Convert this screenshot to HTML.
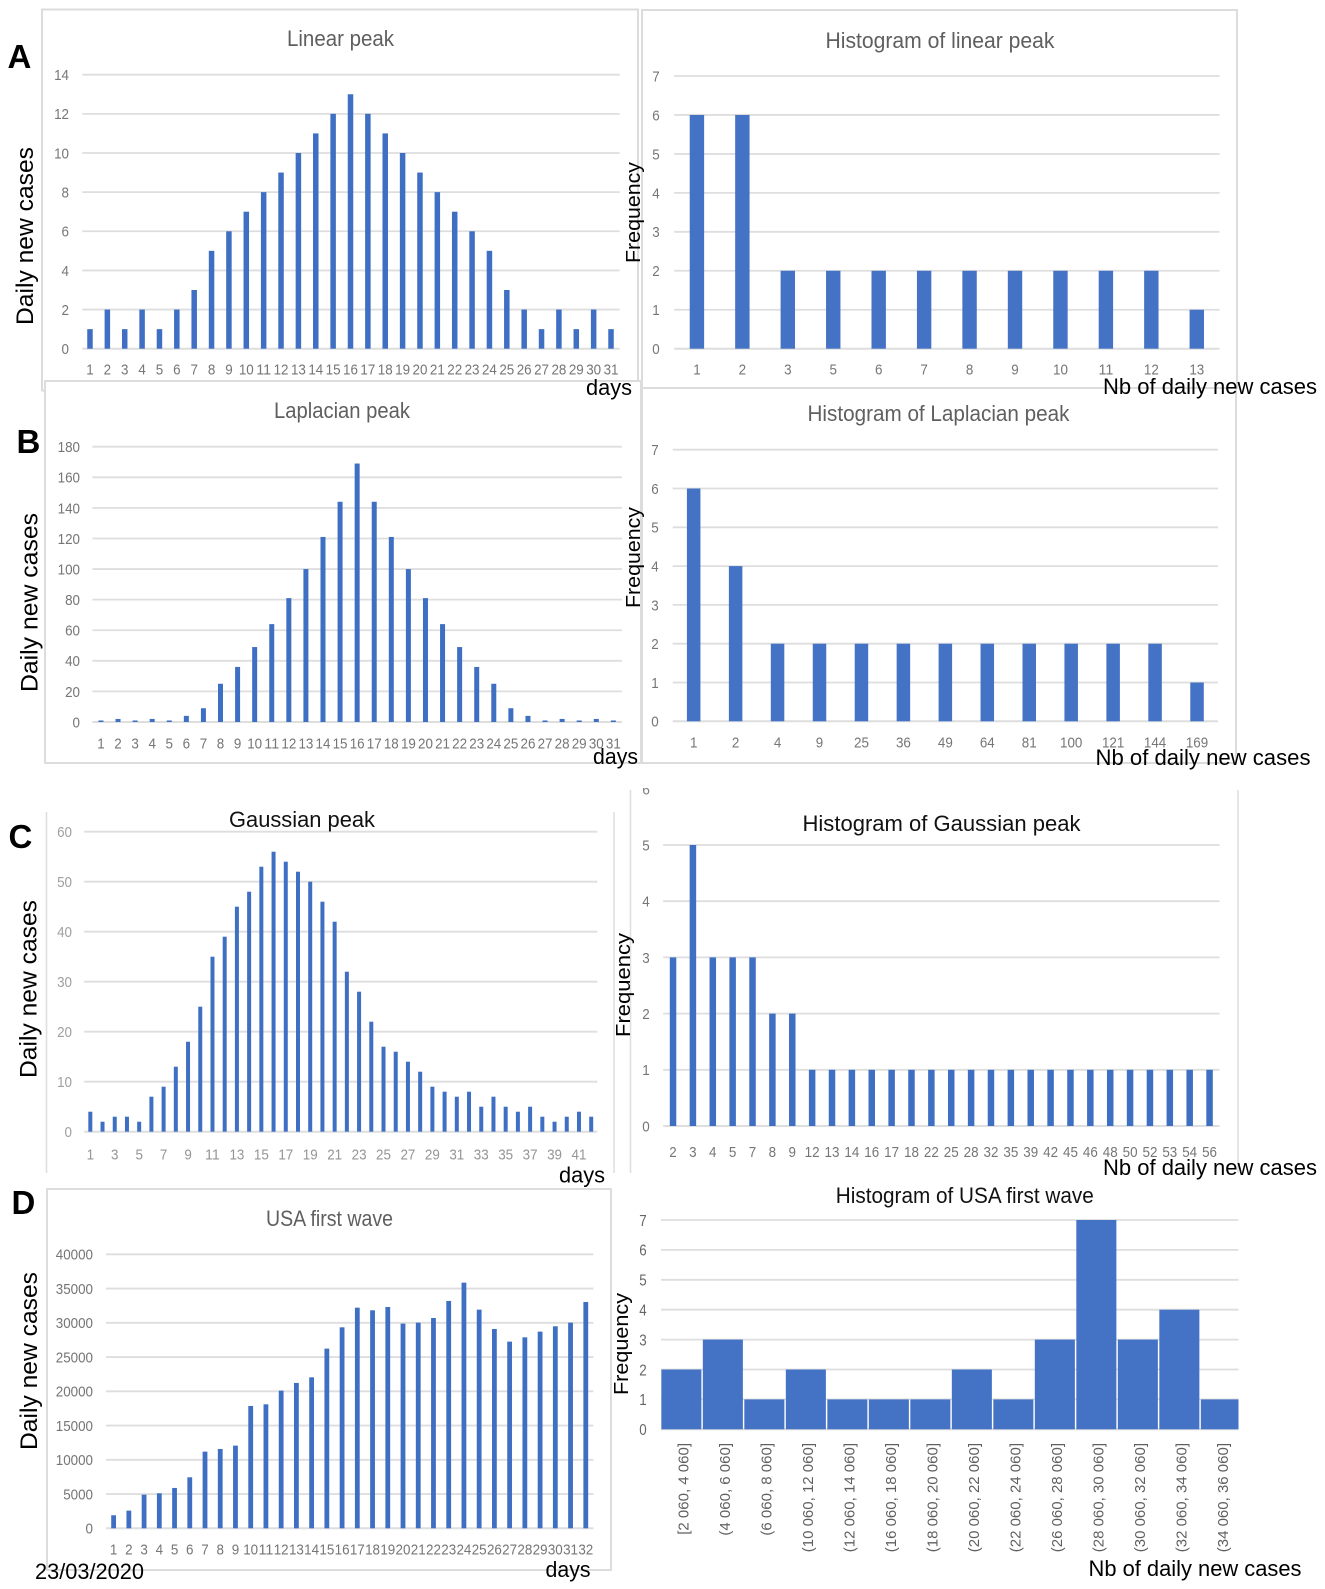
<!DOCTYPE html>
<html lang="en">
<head>
<meta charset="utf-8">
<title>Daily new cases peaks and histograms</title>
<style>
  html, body { margin: 0; padding: 0; background: #fff; }
  #figure { display: block; font-family: "Liberation Sans", sans-serif; filter: blur(0.3px); }
  .frame { fill: none; stroke: #dcdcdc; stroke-width: 2; }
  .frame-line { stroke: #dedede; stroke-width: 1.5; }
  .ax { fill: #000; font-size: 22px; }
  .ax-daily { font-size: 24.5px; }
  .chart-title { font-size: 22px; fill: #5f5f5f; }
  .chart-title.dark { fill: #111; }
  .panel { font-size: 33px; font-weight: bold; fill: #000; }
</style>
</head>
<body>
<svg id="figure" xmlns="http://www.w3.org/2000/svg" width="1325" height="1589" viewBox="0 0 1325 1589">
  <rect width="1325" height="1589" fill="#fff"/>
  <g>
    <rect class="frame" x="42" y="9.5" width="596" height="381"/>
    <rect class="frame" x="642" y="10" width="595" height="378"/>
    <rect class="frame" x="45" y="381" width="596" height="382" style="fill:#fff"/>
    <rect class="frame" x="642" y="388" width="594" height="375" style="fill:#fff"/>
    <line class="frame-line" x1="46.5" y1="812" x2="46.5" y2="1173"/>
    <line class="frame-line" x1="614" y1="812" x2="614" y2="1173"/>
    <line class="frame-line" x1="630.5" y1="790" x2="630.5" y2="1173"/>
    <line class="frame-line" x1="1238" y1="790" x2="1238" y2="1173"/>
    <rect class="frame" x="47" y="1189" width="564" height="381"/>
  </g>
  <g id="charts"></g>
  <g>
    <text class="chart-title" x="287" y="46" textLength="107" lengthAdjust="spacingAndGlyphs">Linear peak</text>
    <text class="chart-title" x="825.5" y="48" textLength="229" lengthAdjust="spacingAndGlyphs">Histogram of linear peak</text>
    <text class="chart-title" x="274" y="418" textLength="136" lengthAdjust="spacingAndGlyphs">Laplacian peak</text>
    <text class="chart-title" x="807.5" y="421" textLength="262" lengthAdjust="spacingAndGlyphs">Histogram of Laplacian peak</text>
    <text class="chart-title dark" x="229" y="827" textLength="146" lengthAdjust="spacingAndGlyphs">Gaussian peak</text>
    <text class="chart-title dark" x="802.5" y="831" textLength="278" lengthAdjust="spacingAndGlyphs">Histogram of Gaussian peak</text>
    <text class="chart-title" x="266" y="1226" textLength="127" lengthAdjust="spacingAndGlyphs">USA first wave</text>
    <text class="chart-title dark" x="835.8" y="1203" textLength="258" lengthAdjust="spacingAndGlyphs">Histogram of USA first wave</text>
  </g>
  <g>
    <text class="panel" x="7.5" y="68">A</text>
    <text class="panel" x="16.5" y="453">B</text>
    <text class="panel" x="8.5" y="848">C</text>
    <text class="panel" x="11.5" y="1214">D</text>
  </g>
  <g>
    <text class="ax ax-daily" transform="translate(33 325) rotate(-90)" textLength="178" lengthAdjust="spacingAndGlyphs">Daily new cases</text>
    <text class="ax ax-daily" transform="translate(37.5 692) rotate(-90)" textLength="179" lengthAdjust="spacingAndGlyphs">Daily new cases</text>
    <text class="ax ax-daily" transform="translate(36.5 1078) rotate(-90)" textLength="178" lengthAdjust="spacingAndGlyphs">Daily new cases</text>
    <text class="ax ax-daily" transform="translate(37 1450) rotate(-90)" textLength="178" lengthAdjust="spacingAndGlyphs">Daily new cases</text>
    <text class="ax" style="font-size:20px" transform="translate(640 263) rotate(-90)" textLength="101" lengthAdjust="spacingAndGlyphs">Frequency</text>
    <text class="ax" style="font-size:20px" transform="translate(640 608) rotate(-90)" textLength="101" lengthAdjust="spacingAndGlyphs">Frequency</text>
    <text class="ax" style="font-size:20px" transform="translate(630 1037) rotate(-90)" textLength="104" lengthAdjust="spacingAndGlyphs">Frequency</text>
    <text class="ax" style="font-size:20px" transform="translate(628 1395) rotate(-90)" textLength="102" lengthAdjust="spacingAndGlyphs">Frequency</text>
    <text class="ax" x="586" y="395" textLength="46" lengthAdjust="spacingAndGlyphs">days</text>
    <text class="ax" x="593" y="764" textLength="45" lengthAdjust="spacingAndGlyphs">days</text>
    <text class="ax" x="559" y="1182.5" textLength="46" lengthAdjust="spacingAndGlyphs">days</text>
    <text class="ax" x="545.5" y="1577" textLength="45" lengthAdjust="spacingAndGlyphs">days</text>
    <text class="ax" x="1103" y="394" textLength="214" lengthAdjust="spacingAndGlyphs">Nb of daily new cases</text>
    <text class="ax" x="1095.5" y="765" textLength="215" lengthAdjust="spacingAndGlyphs">Nb of daily new cases</text>
    <text class="ax" x="1103" y="1175" textLength="214" lengthAdjust="spacingAndGlyphs">Nb of daily new cases</text>
    <text class="ax" x="1088.5" y="1576" textLength="213" lengthAdjust="spacingAndGlyphs">Nb of daily new cases</text>
    <text class="ax" x="35" y="1579" textLength="109" lengthAdjust="spacingAndGlyphs">23/03/2020</text>
  </g>
  <defs>
    <clipPath id="clip-six"><rect x="635" y="788" width="24" height="12"/></clipPath>
  </defs>
  <text x="646" y="794.5" text-anchor="middle" font-size="13.7" fill="#7f7f7f" clip-path="url(#clip-six)">6</text>
</svg>
<script>
const linearDays = [1,2,3,4,5,6,7,8,9,10,11,12,13,14,15,16,17,18,19,20,21,22,23,24,25,26,27,28,29,30,31];
const linearCases = [1,2,1,2,1,2,3,5,6,7,8,9,10,11,12,13,12,11,10,9,8,7,6,5,3,2,1,2,1,2,1];
const linearTicks = [0,2,4,6,8,10,12,14];

const linearHistBins = [1,2,3,5,6,7,8,9,10,11,12,13];
const linearHistFreq = [6,6,2,2,2,2,2,2,2,2,2,1];
const linearHistTicks = [0,1,2,3,4,5,6,7];

const laplacianDays = [1,2,3,4,5,6,7,8,9,10,11,12,13,14,15,16,17,18,19,20,21,22,23,24,25,26,27,28,29,30,31];
const laplacianCases = [1,2,1,2,1,4,9,25,36,49,64,81,100,121,144,169,144,121,100,81,64,49,36,25,9,4,1,2,1,2,1];
const laplacianTicks = [0,20,40,60,80,100,120,140,160,180];

const laplacianHistBins = [1,2,4,9,25,36,49,64,81,100,121,144,169];
const laplacianHistFreq = [6,4,2,2,2,2,2,2,2,2,2,2,1];
const laplacianHistTicks = [0,1,2,3,4,5,6,7];

const gaussianDays = [1,2,3,4,5,6,7,8,9,10,11,12,13,14,15,16,17,18,19,20,21,22,23,24,25,26,27,28,29,30,31,32,33,34,35,36,37,38,39,40,41,42];
const gaussianCases = [4,2,3,3,2,7,9,13,18,25,35,39,45,48,53,56,54,52,50,46,42,32,28,22,17,16,14,12,9,8,7,8,5,7,5,4,5,3,2,3,4,3];
const gaussianTicks = [0,10,20,30,40,50,60];

const gaussianHistBins = [2,3,4,5,7,8,9,12,13,14,16,17,18,22,25,28,32,35,39,42,45,46,48,50,52,53,54,56];
const gaussianHistFreq = [3,5,3,3,3,2,2,1,1,1,1,1,1,1,1,1,1,1,1,1,1,1,1,1,1,1,1,1];
const gaussianHistTicks = [0,1,2,3,4,5];

const usaDays = [1,2,3,4,5,6,7,8,9,10,11,12,13,14,15,16,17,18,19,20,21,22,23,24,25,26,27,28,29,30,31,32];
const usaCases = [1900,2580,4915,5110,5890,7445,11190,11580,12070,17860,18100,20100,21220,22040,26230,29340,32210,31825,32310,29880,30020,30700,33190,35860,31920,29100,27250,27880,28710,29490,30020,33040];
const usaTicks = [0,5000,10000,15000,20000,25000,30000,35000,40000];

const usaHistBins = ["[2 060, 4 060]","(4 060, 6 060]","(6 060, 8 060]","(10 060, 12 060]","(12 060, 14 060]","(16 060, 18 060]","(18 060, 20 060]","(20 060, 22 060]","(22 060, 24 060]","(26 060, 28 060]","(28 060, 30 060]","(30 060, 32 060]","(32 060, 34 060]","(34 060, 36 060]"];
const usaHistFreq = [2,3,1,2,1,1,1,2,1,3,7,3,4,1];
const usaHistTicks = [0,1,2,3,4,5,6,7];

const SVG_NS = "http://www.w3.org/2000/svg";
const root = document.getElementById("charts");
const DIGIT_W = 7.45;

function make(tag, parent, attrs, text) {
  const el = document.createElementNS(SVG_NS, tag);
  for (const key in attrs) el.setAttribute(key, attrs[key]);
  if (text !== undefined) el.textContent = text;
  parent.appendChild(el);
  return el;
}

function drawChart(name, cats, vals, ticks, o) {
  const g = make("g", root, {});
  
  

  const yMax = ticks[ticks.length - 1];
  const yScale = v => o.bottom - (v / yMax) * (o.bottom - o.top);
  const band = (o.right - o.left) / cats.length;
  const xScale = i => o.left + (i + 0.5) * band;
  const plotRight = o.plotRight || o.right;

  ticks.forEach(t => {
    const grid = make("line", g, { x1: o.gridLeft || o.left, x2: plotRight, y1: yScale(t), y2: yScale(t), stroke: "#dedede", "stroke-width": t === 0 ? 2 : 1.8 });
    
    

    const label = make("text", g, { x: o.yLabelX, y: yScale(t), dy: "0.36em", "text-anchor": o.yAnchor || "end", "font-size": o.yFont || 15, fill: o.yColor || "#767676", textLength: String(t).length * DIGIT_W, lengthAdjust: "spacingAndGlyphs" }, String(t));
    
    
  });

  vals.forEach((v, i) => {
    const w = o.barWidth || band * o.barRatio;
    const x = xScale(i) - w / 2;
    const bar = make("rect", g, { x: x, y: yScale(v), width: Math.min(w, plotRight - x), height: yScale(0) - yScale(v), fill: o.barColor || "#3f6fc3" });
    
    
  });

  cats.forEach((c, i) => {
    if (o.labelEvery && i % o.labelEvery !== 0) return;
    if (o.rotated) {
      const cx = xScale(i) + 1.5;
      const rot = make("text", g, { transform: "translate(" + cx + " " + o.labelY + ") rotate(-90)", dy: "0.36em", "text-anchor": "end", "font-size": 15, fill: o.xColor || "#5f5f5f" }, String(c));
      
      
    } else {
      const tick = make("text", g, { x: xScale(i), y: o.labelY, dy: "0.36em", "text-anchor": "middle", "font-size": 15, fill: o.xColor || "#767676", textLength: String(c).length * DIGIT_W, lengthAdjust: "spacingAndGlyphs" }, String(c));
      
      
    }
  });
}

drawChart("linear-peak", linearDays, linearCases, linearTicks,
  { left: 81.3, gridLeft: 82.3, right: 619.7, top: 74.7, bottom: 348.7, barWidth: 5.5, labelY: 369, yLabelX: 69 });
drawChart("linear-histogram", linearHistBins, linearHistFreq, linearHistTicks,
  { left: 674.2, right: 1219.5, top: 76, bottom: 348.7, barWidth: 14.4, labelY: 369, yLabelX: 656, yAnchor: "middle", barColor: "#4472c4" });
drawChart("laplacian-peak", laplacianDays, laplacianCases, laplacianTicks,
  { left: 92.4, right: 621.9, top: 446.7, bottom: 722, barWidth: 5, labelY: 743, yLabelX: 80 });
drawChart("laplacian-histogram", laplacianHistBins, laplacianHistFreq, laplacianHistTicks,
  { left: 672.7, right: 1218, top: 449.7, bottom: 721.3, barWidth: 13.5, labelY: 742, yLabelX: 655, yAnchor: "middle", barColor: "#4472c4" });
drawChart("gaussian-peak", gaussianDays, gaussianCases, gaussianTicks,
  { left: 84.2, right: 597.3, top: 831.7, bottom: 1131.7, barWidth: 4, labelY: 1154, yLabelX: 72, labelEvery: 2, yColor: "#a0a0a0", xColor: "#959595" });
drawChart("gaussian-histogram", gaussianHistBins, gaussianHistFreq, gaussianHistTicks,
  { left: 663.1, right: 1219.5, top: 845, bottom: 1126, barWidth: 6.5, labelY: 1151.7, yLabelX: 646, yAnchor: "middle" });
drawChart("usa-wave", usaDays, usaCases, usaTicks,
  { left: 106, right: 593.4, top: 1254.3, bottom: 1528.3, barWidth: 4.8, labelY: 1549, yLabelX: 93 });
drawChart("usa-histogram", usaHistBins, usaHistFreq, usaHistTicks,
  { left: 660.6, right: 1241.6, plotRight: 1238.5, gridLeft: 661, top: 1220, bottom: 1429.3, barRatio: 0.965, labelY: 1443, yLabelX: 643, yAnchor: "middle", yFont: 16, yColor: "#666", rotated: true, barColor: "#4472c4" });
</script>
</body>
</html>
